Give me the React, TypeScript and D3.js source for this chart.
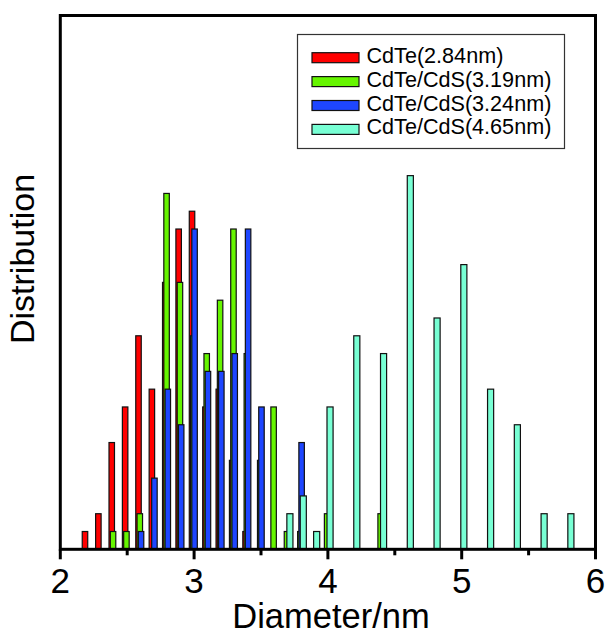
import * as d3 from "d3";

// size distributions, counts per 0.1 nm diameter bin
const cdteD = [2.2, 2.3, 2.4, 2.5, 2.6, 2.7, 2.8, 2.9, 3.0, 3.1, 3.2, 3.3, 3.4];
const cdteN = [1, 2, 6, 8, 12, 9, 15, 18, 19, 8, 9, 5, 1];

const cds319D = [2.4, 2.5, 2.6, 2.8, 2.9, 3.0, 3.1, 3.2, 3.3, 3.4, 3.5, 3.6, 3.7, 3.8, 4.0, 4.4];
const cds319N = [1, 1, 2, 20, 15, 12, 11, 14, 18, 11, 5, 8, 1, 1, 2, 2];

const cds324D = [2.6, 2.7, 2.8, 2.9, 3.0, 3.1, 3.2, 3.3, 3.4, 3.5, 3.8];
const cds324N = [1, 4, 9, 7, 18, 10, 10, 11, 18, 8, 6];

const cds465D = [3.7, 3.8, 3.9, 4.0, 4.2, 4.4, 4.6, 4.8, 5.0, 5.2, 5.4, 5.6, 5.8];
const cds465N = [2, 3, 1, 8, 12, 11, 21, 13, 16, 9, 7, 2, 2];

const seriesNames = ["CdTe(2.84nm)", "CdTe/CdS(3.19nm)", "CdTe/CdS(3.24nm)", "CdTe/CdS(4.65nm)"];
const seriesColors = ["#ff0000", "#66f500", "#1e46ff", "#78ffd4"];

const xTicks = [2, 3, 4, 5, 6];
const xMinorTicks = [2.5, 3.5, 4.5, 5.5];

const FONT = "'Liberation Sans', Arial, sans-serif";

export default function App() {
  const x = d3.scaleLinear().domain([2, 6]).range([60.3, 595.5]);
  const y = d3.scaleLinear().domain([0, 30]).range([549.3, 15.5]);

  // each series is shifted a bit inside its bin, like the original plot
  const series = [
    { d: cdteD, n: cdteN, off: -0.0155, w: 0.041 },
    { d: cds319D, n: cds319N, off: -0.0058, w: 0.041 },
    { d: cds324D, n: cds324N, off: 0.0035, w: 0.041 },
    { d: cds465D, n: cds465N, off: 0.016, w: 0.0455 },
  ];

  const [x0, x1] = x.range();
  const [yb, yt] = y.range();

  return (
    <svg width={607} height={635} style={{ position: "absolute", left: 0, top: 0, background: "#fff" }}>
      {series.map((s, si) => (
        <g key={si}>
          {s.d.map((dv, i) => {
            const cx = x(dv + s.off);
            const bw = x(2 + s.w) - x(2);
            return (
              <rect
                key={i}
                x={cx - bw / 2}
                y={y(s.n[i])}
                width={bw}
                height={y(0) - y(s.n[i])}
                fill={seriesColors[si]}
                stroke="#111"
                strokeWidth={1.2}
              />
            );
          })}
        </g>
      ))}

      <rect x={x0} y={yt} width={x1 - x0} height={yb - yt} fill="none" stroke="#000" strokeWidth={3} />

      {xTicks.map((t) => (
        <g key={t}>
          <line x1={x(t)} x2={x(t)} y1={yb} y2={yb + 10} stroke="#000" strokeWidth={3} />
          <text x={x(t)} y={592.7} textAnchor="middle" fontFamily={FONT} fontSize={35} fill="#000">
            {t}
          </text>
        </g>
      ))}
      {xMinorTicks.map((t) => (
        <line key={t} x1={x(t)} x2={x(t)} y1={yb} y2={yb + 6} stroke="#000" strokeWidth={3} />
      ))}

      <text x={331} y={628} textAnchor="middle" fontFamily={FONT} fontSize={34.5} fill="#000">
        Diameter/nm
      </text>
      <text
        transform="translate(34,259) rotate(-90)"
        textAnchor="middle"
        fontFamily={FONT}
        fontSize={34}
        fill="#000"
      >
        Distribution
      </text>

      <rect x={297.5} y={34.5} width={267} height={114} fill="#fff" stroke="#333" strokeWidth={1.2} />
      {seriesNames.map((name, i) => {
        const top = 52.7 + i * 23.9;
        return (
          <g key={name}>
            <rect x={312} y={top} width={47} height={10} fill={seriesColors[i]} stroke="#111" strokeWidth={1.2} />
            <text x={366.5} y={top + 10} fontFamily={FONT} fontSize={21.6} fill="#000">
              {name}
            </text>
          </g>
        );
      })}
    </svg>
  );
}
